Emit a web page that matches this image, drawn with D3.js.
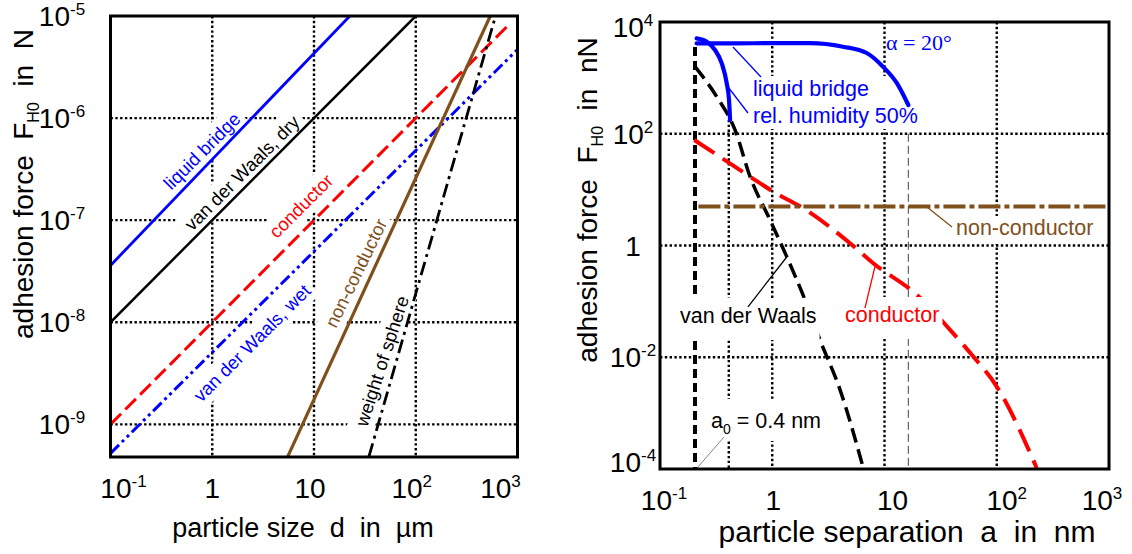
<!DOCTYPE html>
<html>
<head>
<meta charset="utf-8">
<script src="https://cdn.jsdelivr.net/npm/d3@7"></script>
<style>
  html, body { margin: 0; padding: 0; background: #fff; }
  svg { display: block; }
  text { font-family: "Liberation Sans", Arial, Helvetica, sans-serif; white-space: pre; }
</style>
</head>
<body>
<svg id="chart" width="1132" height="554"></svg>
<script>
// ---------- left panel: force vs particle size d (µm), force in N ----------
const sizeTicks = [0.1, 1, 10, 100, 1000];
const forceTicksN = [1e-5, 1e-6, 1e-7, 1e-8, 1e-9];
const sizeGrid = [1, 10, 100];
const forceGridN = [1e-6, 1e-7, 1e-8, 1e-9];

const liquidBridgeBySize = [[0.1, 3.6e-8], [22.5, 1e-5]];
const vdwDryBySize       = [[0.1, 1e-8], [100, 1e-5]];
const conductorBySize    = [[0.1, 1e-9], [850, 8.5e-6]];
const vdwWetBySize       = [[0.1, 5.2e-10], [1000, 4.7e-6]];
const nonConductorBySize = [[5.5, 4.8e-10], [540, 1e-5]];
const weightBySize       = [[34.6, 4.8e-10], [608, 1e-5]];

// ---------- right panel: force vs separation a (nm), force in nN ----------
const separationTicks = [0.1, 1, 10, 100, 1000];
const forceTicksNN = [1e4, 1e2, 1, 1e-2, 1e-4];
const separationGrid = [1, 10, 100];
const forceGridNN = [1e2, 1, 1e-2];

const bridgeAlpha20 = [[0.212, 4150], [0.447, 4150], [1.02, 4180], [2.17, 4180], [4.27, 3614],
                       [6.94, 2786], [9.70, 1585], [12.85, 811], [16.3, 327]];
const bridgeHumidity50 = [[0.212, 5105], [0.261, 4446], [0.309, 3155], [0.355, 1824],
                          [0.393, 800], [0.412, 403], [0.421, 177]];
const vdwBySeparation = [[0.205, 1585], [0.320, 461], [0.466, 117], [0.634, 17.1], [0.955, 2.87],
                         [1.346, 0.632], [1.959, 0.106], [2.661, 0.0205], [4.018, 0.00261], [6.471, 1.04e-4]];
const conductorBySeparation = [[0.202, 77.4], [0.634, 17.1], [1.02, 9.20], [1.89, 4.65], [4.93, 1.10],
                               [7.94, 0.482], [19.4, 0.131], [38.4, 0.0309], [61.8, 0.0103],
                               [100, 0.00299], [227, 1.04e-4]];
const nonConductorBySeparation = [[0.22, 5], [1000, 5]];
const contactDistance = [[0.205, 3570], [0.205, 1e-4]];
const separation04 = [[0.41, 177], [0.41, 1e-4]];
const bridgeRupture = [[16.3, 100], [16.3, 1e-4]];

const BLUE = "#0000ff", RED = "#ff0000", BROWN = "#80501c", BLACK = "#000";

const svg = d3.select("#chart");

// plot frames
const L = { left: 110.5, right: 517.5, top: 16, bottom: 457 };
const R = { left: 660, right: 1109, top: 22, bottom: 469 };

const xL = d3.scaleLog().domain([0.1, 1000]).range([L.left, L.right]);
const yL = d3.scaleLog().domain([Math.pow(10, -9.32), 1e-5]).range([L.bottom, L.top]);
const xR = d3.scaleLog().domain([0.1, 1000]).range([R.left, R.right]);
const yR = d3.scaleLog().domain([1e-4, 1e4]).range([R.bottom, R.top]);

const defs = svg.append("defs");
defs.append("clipPath").attr("id", "clipL").append("rect")
  .attr("x", L.left).attr("y", L.top).attr("width", L.right - L.left).attr("height", L.bottom - L.top);
defs.append("clipPath").attr("id", "clipR").append("rect")
  .attr("x", R.left).attr("y", R.top).attr("width", R.right - R.left).attr("height", R.bottom - R.top);

const DOT = "2.4,2.4";
const DOT_W = 2.4;

function powerLabel(sel, v) {
  const e = Math.round(Math.log10(v));
  if (e === 0) { sel.text("1"); return; }
  if (e === 1) { sel.text("10"); return; }
  sel.append("tspan").text("10");
  sel.append("tspan").attr("font-size", 17).attr("dy", -11).text(e < 0 ? "-" + (-e) : String(e));
}

function frame(box) {
  svg.append("rect").attr("x", box.left).attr("y", box.top)
    .attr("width", box.right - box.left).attr("height", box.bottom - box.top)
    .attr("fill", "none").attr("stroke", BLACK).attr("stroke-width", 3);
}

function boxFor(layer, textSel, transform, pad) {
  const b = textSel.node().getBBox();
  layer.append("rect")
    .attr("transform", transform || null)
    .attr("x", b.x - pad.x).attr("y", b.y - pad.top)
    .attr("width", b.width + 2 * pad.x).attr("height", b.height + pad.top + pad.bottom)
    .attr("fill", "#fff");
}

// ================= LEFT PANEL =================
const gridL = svg.append("g").attr("clip-path", "url(#clipL)");
const boxL = svg.append("g");
const curvesL = svg.append("g").attr("clip-path", "url(#clipL)");
const textL = svg.append("g");

gridL.selectAll("line.v").data(sizeGrid).join("line")
  .attr("x1", d => xL(d)).attr("x2", d => xL(d)).attr("y1", L.top).attr("y2", L.bottom)
  .attr("stroke", BLACK).attr("stroke-width", DOT_W).attr("stroke-dasharray", DOT);
gridL.selectAll("line.h").data(forceGridN).join("line")
  .attr("y1", d => yL(d)).attr("y2", d => yL(d)).attr("x1", L.left).attr("x2", L.right)
  .attr("stroke", BLACK).attr("stroke-width", DOT_W).attr("stroke-dasharray", DOT);

const lineL = d3.line().x(d => xL(d[0])).y(d => yL(d[1]));
const seriesL = [
  { data: liquidBridgeBySize, color: BLUE, width: 2.8, dash: null },
  { data: vdwDryBySize, color: BLACK, width: 2.5, dash: null },
  { data: conductorBySize, color: RED, width: 3, dash: "15,6" },
  { data: vdwWetBySize, color: BLUE, width: 3, dash: "12,4,3,4,3,4" },
  { data: nonConductorBySize, color: BROWN, width: 3.2, dash: null },
  { data: weightBySize, color: BLACK, width: 2.8, dash: "14,5,3,5" }
];
seriesL.forEach(s => {
  curvesL.append("path").attr("d", lineL(s.data)).attr("fill", "none")
    .attr("stroke", s.color).attr("stroke-width", s.width)
    .attr("stroke-dasharray", s.dash);
});

const labelsL = [
  { text: "liquid bridge", x: 202, y: 151, angle: -45, color: BLUE },
  { text: "van der Waals, dry", x: 242, y: 173, angle: -45, color: BLACK },
  { text: "conductor", x: 301, y: 206, angle: -45, color: RED },
  { text: "van der Waals, wet", x: 252, y: 343, angle: -45, color: BLUE },
  { text: "non-conductor", x: 356, y: 273, angle: -64, color: BROWN },
  { text: "weight of sphere", x: 382, y: 361, angle: -72, color: BLACK }
];
labelsL.forEach(l => {
  const tr = `translate(${l.x},${l.y}) rotate(${l.angle})`;
  const t = textL.append("text").attr("transform", tr)
    .attr("text-anchor", "middle").attr("dy", "0.35em")
    .attr("font-size", 18.5).attr("fill", l.color).text(l.text);
  boxFor(boxL, t, tr, { x: 4, top: 3, bottom: 3 });
});

frame(L);

// axis tick labels
const nudgeXL = [13, 0, -4, -4, -17];
sizeTicks.forEach((v, i) => {
  const t = svg.append("text").attr("x", xL(v) + nudgeXL[i]).attr("y", 498)
    .attr("text-anchor", "middle").attr("font-size", 28);
  powerLabel(t, v);
});
forceTicksN.forEach(v => {
  const t = svg.append("text").attr("x", 62).attr("y", yL(v) + 10)
    .attr("text-anchor", "middle").attr("font-size", 28);
  powerLabel(t, v);
});

// axis titles
svg.append("text").attr("x", 303).attr("y", 537).attr("text-anchor", "middle")
  .attr("font-size", 27).attr("xml:space", "preserve").text("particle size  d  in  µm");
{
  const t = svg.append("text").attr("transform", "translate(33,184) rotate(-90)")
    .attr("text-anchor", "middle").attr("font-size", 28).attr("xml:space", "preserve");
  t.append("tspan").text("adhesion force  F");
  t.append("tspan").attr("font-size", 16).attr("dy", 6).text("H0");
  t.append("tspan").attr("dy", -6).text("  in  N");
}

// ================= RIGHT PANEL =================
const gridR = svg.append("g").attr("clip-path", "url(#clipR)");
const curvesR = svg.append("g").attr("clip-path", "url(#clipR)");
const boxR = svg.append("g");
const bridgeR = svg.append("g").attr("clip-path", "url(#clipR)");
const annR = svg.append("g");

gridR.selectAll("line.v").data(separationGrid).join("line")
  .attr("x1", d => xR(d)).attr("x2", d => xR(d)).attr("y1", R.top).attr("y2", R.bottom)
  .attr("stroke", BLACK).attr("stroke-width", DOT_W).attr("stroke-dasharray", DOT);
gridR.selectAll("line.h").data(forceGridNN).join("line")
  .attr("y1", d => yR(d)).attr("y2", d => yR(d)).attr("x1", R.left).attr("x2", R.right)
  .attr("stroke", BLACK).attr("stroke-width", DOT_W).attr("stroke-dasharray", DOT);

const straightR = d3.line().x(d => xR(d[0])).y(d => yR(d[1]));
const smoothR = d3.line().x(d => xR(d[0])).y(d => yR(d[1])).curve(d3.curveMonotoneX);

gridR.append("path").attr("d", straightR(separation04)).attr("stroke", BLACK)
  .attr("stroke-width", DOT_W).attr("stroke-dasharray", DOT);
gridR.append("path").attr("d", straightR(bridgeRupture)).attr("stroke", "#444")
  .attr("stroke-width", 1).attr("stroke-dasharray", "8,4");
curvesR.append("path").attr("d", straightR(contactDistance)).attr("stroke", BLACK)
  .attr("stroke-width", 4).attr("stroke-dasharray", "9,5");

curvesR.append("path").attr("d", smoothR(vdwBySeparation)).attr("fill", "none")
  .attr("stroke", BLACK).attr("stroke-width", 3.5).attr("stroke-dasharray", "15,7");
curvesR.append("path").attr("d", smoothR(conductorBySeparation)).attr("fill", "none")
  .attr("stroke", RED).attr("stroke-width", 4).attr("stroke-dasharray", "24,10");
curvesR.append("path").attr("d", straightR(nonConductorBySeparation)).attr("fill", "none")
  .attr("stroke", BROWN).attr("stroke-width", 4).attr("stroke-dasharray", "22,4,5,4");

bridgeR.append("path").attr("d", smoothR(bridgeAlpha20)).attr("fill", "none")
  .attr("stroke", BLUE).attr("stroke-width", 4.2).attr("stroke-linecap", "round");
bridgeR.append("path").attr("d", smoothR(bridgeHumidity50)).attr("fill", "none")
  .attr("stroke", BLUE).attr("stroke-width", 4.2).attr("stroke-linecap", "round");

// leader lines (curve point -> label), in data coordinates
const leaders = [
  { from: [0.447, 3573], to: [0.794, 1038], color: BLUE, w: 1.3 },
  { from: [0.404, 687], to: [0.608, 235], color: BLUE, w: 1.3 },
  { from: [23.9, 4.89], to: [39.9, 2.14], color: BROWN, w: 1.3 },
  { from: [1.346, 0.622], to: [0.608, 0.080], color: BLACK, w: 1.3 },
  { from: [8.22, 0.418], to: [6.70, 0.076], color: RED, w: 1.3 },
  { from: [0.372, 3.74e-4], to: [0.214, 1.04e-4], color: "#777", w: 0.9 }
];

const labelsR = [
  { lines: ["liquid bridge", "rel. humidity 50%"], x: 753, y: 96, color: BLUE, pad: { x: 3, top: 1, bottom: 1 } },
  { lines: ["non-conductor"], x: 956, y: 235, color: BROWN, pad: { x: 3, top: 0, bottom: 4 } },
  { lines: ["van der Waals"], x: 680, y: 323, color: BLACK, pad: { x: 3, top: 6, bottom: 12 } },
  { lines: ["conductor"], x: 845, y: 322, color: RED, pad: { x: 3, top: 6, bottom: 12 } }
];
labelsR.forEach(l => {
  const t = annR.append("text").attr("x", l.x).attr("y", l.y)
    .attr("font-size", 21.5).attr("fill", l.color);
  l.lines.forEach((s, i) => {
    t.append("tspan").attr("x", l.x).attr("dy", i === 0 ? 0 : 27).text(s);
  });
  boxFor(boxR, t, null, l.pad);
});
{
  const t = annR.append("text").attr("x", 711).attr("y", 428).attr("font-size", 21.5)
    .attr("fill", BLACK).attr("xml:space", "preserve");
  t.append("tspan").text("a");
  t.append("tspan").attr("font-size", 14).attr("dy", 6).text("0");
  t.append("tspan").attr("dy", -6).text(" = 0.4 nm");
  boxFor(boxR, t, null, { x: 3, top: 10, bottom: 4 });
}
annR.append("text").attr("x", 886).attr("y", 50).attr("font-size", 22)
  .style("font-family", "'Liberation Serif', 'Times New Roman', serif")
  .attr("fill", BLUE).text("α = 20°");

annR.selectAll("line.leader").data(leaders).join("line")
  .attr("x1", d => xR(d.from[0])).attr("y1", d => yR(d.from[1]))
  .attr("x2", d => xR(d.to[0])).attr("y2", d => yR(d.to[1]))
  .attr("stroke", d => d.color).attr("stroke-width", d => d.w);

frame(R);

const nudgeXR = [4, 1, 8, 10, -7];
separationTicks.forEach((v, i) => {
  const t = svg.append("text").attr("x", xR(v) + nudgeXR[i]).attr("y", 510)
    .attr("text-anchor", "middle").attr("font-size", 28);
  powerLabel(t, v);
});
const nudgeYR = [5, 0, 0, 0, -7];
forceTicksNN.forEach((v, i) => {
  const t = svg.append("text").attr("x", 633).attr("y", yR(v) + 10 + nudgeYR[i])
    .attr("text-anchor", "middle").attr("font-size", 28);
  powerLabel(t, v);
});

svg.append("text").attr("x", 907).attr("y", 542).attr("text-anchor", "middle")
  .attr("font-size", 30).attr("xml:space", "preserve").text("particle separation  a  in  nm");
{
  const t = svg.append("text").attr("transform", "translate(597,200) rotate(-90)")
    .attr("text-anchor", "middle").attr("font-size", 28).attr("xml:space", "preserve");
  t.append("tspan").text("adhesion force  F");
  t.append("tspan").attr("font-size", 16).attr("dy", 6).text("H0");
  t.append("tspan").attr("dy", -6).text("  in  nN");
}
</script>
</body>
</html>
